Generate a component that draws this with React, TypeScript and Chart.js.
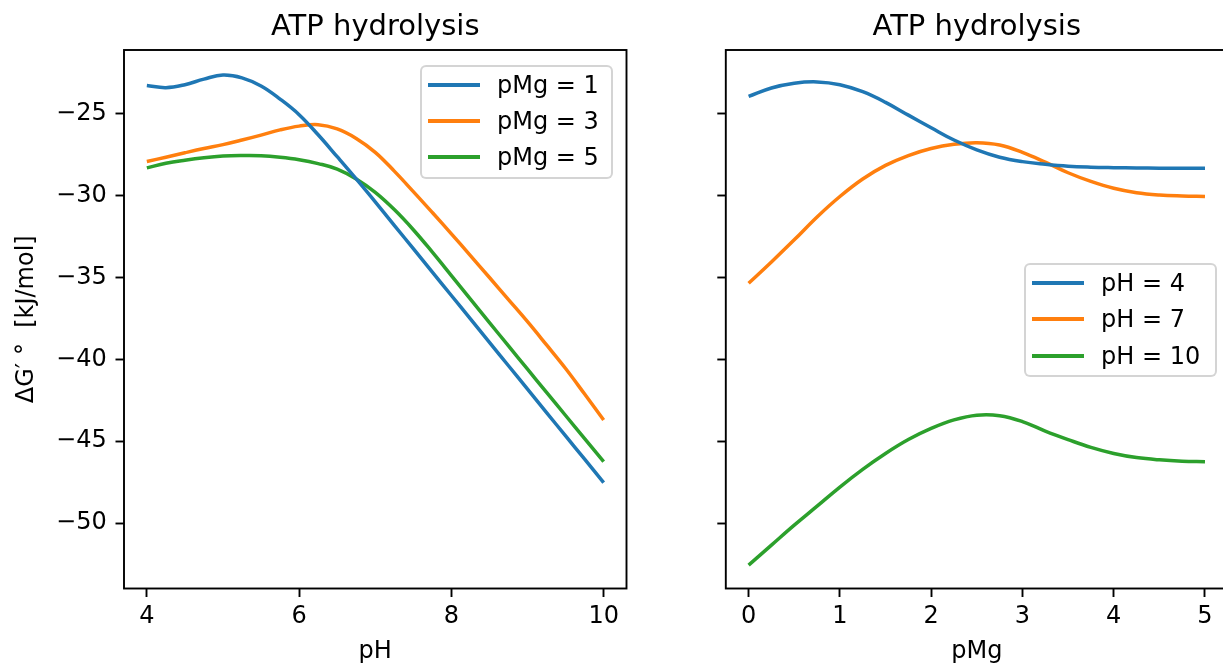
import React, { useEffect, useRef } from 'react';
import { Chart, registerables } from 'chart.js';

Chart.register(...registerables);

const FONT = '"DejaVu Sans", sans-serif';
const COLORS = ['#1f77b4', '#ff7f0e', '#2ca02c'];

const titleText = 'ATP hydrolysis';
const yAxisTitle = 'ΔG′ °  [kJ/mol]';
const leftXTitle = 'pH';
const rightXTitle = 'pMg';

// Left panel: ΔG'° vs pH for fixed pMg
const phValues = [4.0, 4.25, 4.5, 4.75, 5.0, 5.25, 5.5, 5.75, 6.0, 6.25, 6.5, 6.75, 7.0, 7.25, 7.5, 7.75, 8.0, 8.25, 8.5, 8.75, 9.0, 9.25, 9.5, 9.75, 10.0];
const pMg1 = [-23.27, -23.40, -23.22, -22.88, -22.63, -22.80, -23.30, -24.10, -25.05, -26.28, -27.62, -28.98, -30.38, -31.81, -33.24, -34.67, -36.10, -37.53, -38.96, -40.39, -41.82, -43.25, -44.68, -46.10, -47.53];
const pMg3 = [-27.91, -27.65, -27.38, -27.12, -26.88, -26.60, -26.30, -25.98, -25.75, -25.66, -25.92, -26.50, -27.35, -28.50, -29.75, -31.03, -32.33, -33.66, -35.00, -36.35, -37.70, -39.12, -40.56, -42.12, -43.70];
const pMg5 = [-28.30, -28.02, -27.83, -27.68, -27.58, -27.55, -27.56, -27.65, -27.80, -28.04, -28.38, -28.98, -29.80, -30.85, -32.08, -33.45, -34.88, -36.32, -37.75, -39.18, -40.60, -42.02, -43.43, -44.84, -46.25];
const leftLabels = ['pMg = 1', 'pMg = 3', 'pMg = 5'];

// Right panel: ΔG'° vs pMg for fixed pH
const pMgValues = [0.0, 0.25, 0.5, 0.75, 1.0, 1.25, 1.5, 1.75, 2.0, 2.25, 2.5, 2.75, 3.0, 3.25, 3.5, 3.75, 4.0, 4.25, 4.5, 4.75, 5.0];
const pH4 = [-23.94, -23.42, -23.13, -23.05, -23.22, -23.65, -24.30, -25.08, -25.85, -26.60, -27.20, -27.65, -27.92, -28.08, -28.20, -28.26, -28.29, -28.31, -28.32, -28.32, -28.32];
const pH7 = [-35.35, -34.05, -32.70, -31.30, -30.05, -28.98, -28.15, -27.55, -27.12, -26.86, -26.76, -26.90, -27.35, -27.95, -28.60, -29.13, -29.55, -29.82, -29.96, -30.02, -30.05];
const pH10 = [-52.57, -51.35, -50.13, -48.97, -47.80, -46.72, -45.75, -44.90, -44.22, -43.70, -43.41, -43.44, -43.80, -44.38, -44.90, -45.38, -45.75, -46.00, -46.14, -46.22, -46.25];
const rightLabels = ['pH = 4', 'pH = 7', 'pH = 10'];

const phTicks = [4, 6, 8, 10];
const pMgTicks = [0, 1, 2, 3, 4, 5];
const yTicks = [-50, -45, -40, -35, -30, -25];

const fmt = (v: number) => (v < 0 ? '\u2212' + Math.abs(v) : String(v));

const framePlugin = {
  id: 'frame',
  afterDatasetsDraw(chart: any) {
    const { ctx, chartArea: a } = chart;
    ctx.save();
    ctx.strokeStyle = '#000';
    ctx.lineWidth = 1.9;
    ctx.strokeRect(a.left, a.top, a.right - a.left, a.bottom - a.top);
    ctx.restore();
  },
};

type PanelOpts = {
  xs: number[];
  series: number[][];
  labels: string[];
  xMin: number;
  xMax: number;
  xTicks: number[];
  xTitle: string;
  yWidth: number;
  padRight: number;
  showYLabels: boolean;
};

const CANVAS_H = 670;
const AREA_BOTTOM = 588.5;

function makeConfig(o: PanelOpts): any {
  return {
    type: 'line',
    data: {
      datasets: o.series.map((s, i) => ({
        label: o.labels[i],
        data: s.map((y, j) => ({ x: o.xs[j], y })),
        borderColor: COLORS[i],
        backgroundColor: COLORS[i],
        borderWidth: 3.5,
        pointRadius: 0,
        fill: false,
        tension: 0.4,
        borderCapStyle: 'butt',
        borderJoinStyle: 'round',
      })),
    },
    options: {
      responsive: false,
      maintainAspectRatio: false,
      animation: false,
      events: [],
      layout: { padding: { left: 0, right: o.padRight, top: 0, bottom: 0 } },
      plugins: {
        legend: { display: false },
        tooltip: { enabled: false },
        title: {
          display: true,
          text: titleText,
          fullSize: false,
          color: '#000',
          font: { family: FONT, size: 29, weight: 'normal', lineHeight: 1.2 },
          padding: { top: 10.4, bottom: 4.8 },
        },
      },
      scales: {
        x: {
          type: 'linear',
          min: o.xMin,
          max: o.xMax,
          afterBuildTicks: (axis: any) => {
            axis.ticks = o.xTicks.map((v) => ({ value: v }));
          },
          afterFit: (axis: any) => {
            axis.height = CANVAS_H - AREA_BOTTOM;
          },
          border: { display: false },
          grid: {
            drawOnChartArea: false,
            drawTicks: true,
            tickLength: 8.5,
            tickWidth: 1.9,
            tickColor: '#000',
          },
          ticks: {
            color: '#000',
            font: { family: FONT, size: 24, lineHeight: 1.2 },
            padding: 5,
            maxRotation: 0,
            autoSkip: false,
            callback: (v: number) => fmt(v),
          },
          title: {
            display: true,
            text: o.xTitle,
            color: '#000',
            font: { family: FONT, size: 24, lineHeight: 1.2 },
            padding: { top: 0, bottom: 3.6 },
          },
        },
        y: {
          type: 'linear',
          min: -54.0,
          max: -21.1,
          afterBuildTicks: (axis: any) => {
            axis.ticks = yTicks.map((v) => ({ value: v }));
          },
          afterFit: (axis: any) => {
            axis.width = o.yWidth;
          },
          border: { display: false },
          grid: {
            drawOnChartArea: false,
            drawTicks: true,
            tickLength: 8.5,
            tickWidth: 1.9,
            tickColor: '#000',
          },
          ticks: {
            display: o.showYLabels,
            color: '#000',
            font: { family: FONT, size: 24, lineHeight: 1.2 },
            padding: 8.8,
            autoSkip: false,
            callback: (v: number) => fmt(v),
          },
          title: {
            display: o.showYLabels,
            text: yAxisTitle,
            color: '#000',
            font: { family: FONT, size: 24, lineHeight: 1.2 },
            padding: { top: 12.2, bottom: 0 },
          },
        },
      },
    },
    plugins: [framePlugin],
  };
}

function Panel({ left, width, opts }: { left: number; width: number; opts: PanelOpts }) {
  const ref = useRef<HTMLCanvasElement | null>(null);
  useEffect(() => {
    if (!ref.current) return;
    const chart = new Chart(ref.current, makeConfig(opts));
    return () => chart.destroy();
  }, []);
  return (
    <canvas
      ref={ref}
      width={width}
      height={CANVAS_H}
      style={{ position: 'absolute', left, top: 0, width, height: CANVAS_H }}
    />
  );
}

function Legend({ left, top, labels, rowCenters }: { left: number; top: number; labels: string[]; rowCenters: number[] }) {
  return (
    <div
      style={{
        position: 'absolute',
        left,
        top,
        width: 193,
        height: 114,
        boxSizing: 'border-box',
        border: '2px solid rgba(204,204,204,0.85)',
        borderRadius: 6,
        background: 'rgba(255,255,255,0.8)',
      }}
    >
      {labels.map((lab, i) => (
        <React.Fragment key={lab}>
          <div
            style={{
              position: 'absolute',
              left: 6,
              top: Math.round(rowCenters[i]) - 2,
              width: 52,
              height: 4,
              background: COLORS[i],
            }}
          />
          <span
            style={{
              position: 'absolute',
              left: 75,
              top: Math.round(rowCenters[i]) - 18,
              fontFamily: FONT,
              fontSize: 24,
              lineHeight: '36px',
              color: '#000',
              whiteSpace: 'nowrap',
            }}
          >
            {lab}
          </span>
        </React.Fragment>
      ))}
    </div>
  );
}

export default function App() {
  const leftOpts: PanelOpts = {
    xs: phValues,
    series: [pMg1, pMg3, pMg5],
    labels: leftLabels,
    xMin: 3.7,
    xMax: 10.3,
    xTicks: phTicks,
    xTitle: leftXTitle,
    yWidth: 124,
    padRight: 663 - 626.5,
    showYLabels: true,
  };
  const rightOpts: PanelOpts = {
    xs: pMgValues,
    series: [pH4, pH7, pH10],
    labels: rightLabels,
    xMin: -0.25,
    xMax: 5.25,
    xTicks: pMgTicks,
    xTitle: rightXTitle,
    yWidth: 725.8 - 663,
    padRight: 1240 - 1227.8,
    showYLabels: false,
  };
  return (
    <div
      style={{
        position: 'fixed',
        left: 0,
        top: 0,
        width: 1223,
        height: 664,
        overflow: 'hidden',
        background: '#fff',
      }}
    >
      <Panel left={0} width={663} opts={leftOpts} />
      <Panel left={663} width={577} opts={rightOpts} />
      <Legend left={420} top={65} labels={leftLabels} rowCenters={[18, 53.8, 89.6]} />
      <Legend left={1024} top={263} labels={rightLabels} rowCenters={[18.3, 54.3, 91]} />
    </div>
  );
}
